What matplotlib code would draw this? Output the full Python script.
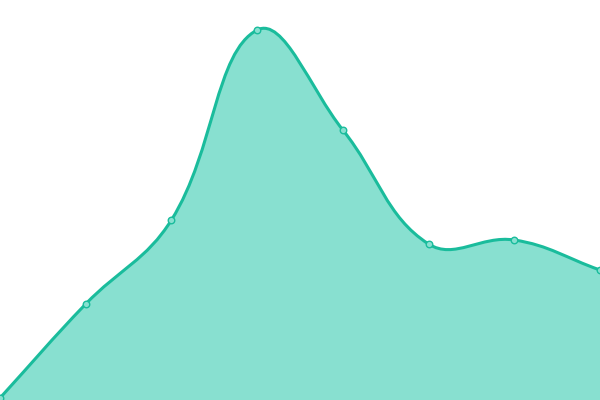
import numpy as np
import matplotlib
matplotlib.use("Agg")
import matplotlib.pyplot as plt
from matplotlib.path import Path
from matplotlib.patches import PathPatch

# data values (one point per category)
labels = ["1", "2", "3", "4", "5", "6", "7", "8"]
values = [2, 96, 180, 370, 270, 156, 160, 130]

line_color = "#1abc9c"
fill_color = "#88e0d0"
tension = 0.4

x = np.linspace(0, 600, len(values))
y = np.array(values, dtype=float)
pts = np.column_stack([x, y])
n = len(pts)

# bezier control points, same rule as a cardinal spline with tension
cp_prev = pts.copy()
cp_next = pts.copy()
for i in range(n):
    p0 = pts[max(i - 1, 0)]
    p1 = pts[i]
    p2 = pts[min(i + 1, n - 1)]
    d01 = np.hypot(*(p1 - p0))
    d12 = np.hypot(*(p2 - p1))
    tot = d01 + d12
    s01 = d01 / tot if tot else 0
    s12 = d12 / tot if tot else 0
    cp_prev[i] = p1 - tension * s01 * (p2 - p0)
    cp_next[i] = p1 + tension * s12 * (p2 - p0)
cp_prev[:, 1] = np.clip(cp_prev[:, 1], 0, 400)
cp_next[:, 1] = np.clip(cp_next[:, 1], 0, 400)

verts = [tuple(pts[0])]
codes = [Path.MOVETO]
for i in range(n - 1):
    verts += [tuple(cp_next[i]), tuple(cp_prev[i + 1]), tuple(pts[i + 1])]
    codes += [Path.CURVE4] * 3

fill_verts = verts + [(x[-1], 0), (x[0], 0), tuple(pts[0])]
fill_codes = codes + [Path.LINETO, Path.LINETO, Path.CLOSEPOLY]

fig = plt.figure(figsize=(6, 4), dpi=100)
ax = fig.add_axes([0, 0, 1, 1])
ax.add_patch(PathPatch(Path(fill_verts, fill_codes), facecolor=fill_color,
                       edgecolor="none", clip_on=False))
ax.add_patch(PathPatch(Path(verts, codes), facecolor="none",
                       edgecolor=line_color, lw=2.2, clip_on=False))
ax.scatter(x, y, s=22, facecolor=fill_color, edgecolor=line_color,
           linewidths=1, zorder=3, clip_on=False)
ax.set_xlim(0, 600)
ax.set_ylim(0, 400)
ax.axis("off")
fig.savefig("out.png", dpi=100)
